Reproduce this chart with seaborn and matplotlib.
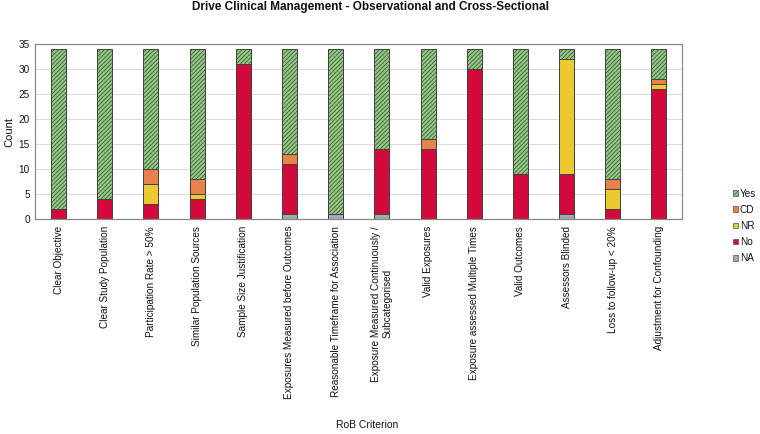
import matplotlib
matplotlib.use("Agg")
import matplotlib.pyplot as plt
import numpy as np
import pandas as pd
import seaborn as sns
from matplotlib.patches import Patch

# ---------------- data ----------------
criteria = [
    "Clear Objective",
    "Clear Study Population",
    "Participation Rate > 50%",
    "Similar Population Sources",
    "Sample Size Justification",
    "Exposures Measured before Outcomes",
    "Reasonable Timeframe for Association",
    "Exposure Measured Continuously /\nSubcategorised",
    "Valid Exposures",
    "Exposure assessed Multiple Times",
    "Valid Outcomes",
    "Assessors Blinded",
    "Loss to follow-up < 20%",
    "Adjustment for Confounding",
]
na_counts = [0, 0, 0, 0, 0, 1, 1, 1, 0, 0, 0, 1, 0, 0]
no_counts = [2, 4, 3, 4, 31, 10, 0, 13, 14, 30, 9, 8, 2, 26]
nr_counts = [0, 0, 4, 1, 0, 0, 0, 0, 0, 0, 0, 23, 4, 1]
cd_counts = [0, 0, 3, 3, 0, 2, 0, 0, 2, 0, 0, 0, 2, 1]
yes_counts = [32, 30, 24, 26, 3, 21, 33, 20, 18, 4, 25, 2, 26, 6]

# stacking order bottom -> top
levels = ["NA", "No", "NR", "CD", "Yes"]
legend_order = ["Yes", "CD", "NR", "No", "NA"]
colors = {
    "NA": "#a3abad",
    "No": "#d20a3c",
    "NR": "#ebc92f",
    "CD": "#e8824a",
    "Yes": "#8fcb7e",
}

df = pd.DataFrame({
    "criterion": criteria,
    "NA": na_counts,
    "No": no_counts,
    "NR": nr_counts,
    "CD": cd_counts,
    "Yes": yes_counts,
})
cum = df[levels].cumsum(axis=1)

sns.set_style("white")
plt.rcParams["font.family"] = ["Liberation Sans", "DejaVu Sans"]
plt.rcParams["text.color"] = "#111111"
plt.rcParams["axes.labelcolor"] = "#111111"
plt.rcParams["xtick.color"] = "#111111"
plt.rcParams["ytick.color"] = "#111111"
plt.rcParams["hatch.color"] = "#4a8a44"
plt.rcParams["hatch.linewidth"] = 0.5

fig = plt.figure(figsize=(7.6, 4.34), dpi=100)
ax = fig.add_axes([0.0467, 0.4954, 0.8507, 0.4032])

# draw from top level down so each shorter bar overlays the taller one
for lev in reversed(levels):
    sns.barplot(
        x=df["criterion"], y=cum[lev], color=colors[lev], width=0.325,
        edgecolor="#404040", linewidth=0.7, saturation=1, ax=ax,
        hatch="////////" if lev == "Yes" else None,
    )

ax.set_ylim(0, 35)
ax.set_yticks(np.arange(0, 36, 5))
ax.set_xlim(-0.5, len(criteria) - 0.5)
ax.yaxis.grid(True, color="#dcdcdc", linewidth=0.8)
ax.set_axisbelow(True)
for s in ax.spines.values():
    s.set_color("#8a8a8a")
    s.set_linewidth(0.9)
ax.tick_params(axis="x", labelrotation=90, labelsize=7.2, length=0, pad=5)
ax.tick_params(axis="y", labelsize=7.2, length=0, pad=4)
ax.set_xlabel("RoB Criterion", fontsize=7.5, va="center")
ax.xaxis.set_label_coords(0.513, -1.18)
ax.set_ylabel("Count", fontsize=8, labelpad=3)
fig.suptitle("Drive Clinical Management - Observational and Cross-Sectional",
             x=0.488, y=1 - 7 / 434, va="center", fontsize=8.5, fontweight="bold")

# legend at right
handles = [Patch(facecolor=colors[l], edgecolor="#505050", linewidth=0.5,
                 hatch="////////" if l == "Yes" else None, label=l)
           for l in legend_order]
fig.legend(handles=handles, loc="center left", bbox_to_anchor=(0.964, 1 - 226 / 434),
           frameon=False, fontsize=7.2, handlelength=0.5, handleheight=0.5,
           handletextpad=0.2, labelspacing=0.62, borderpad=0, borderaxespad=0)

fig.savefig("out.png", dpi=100)
